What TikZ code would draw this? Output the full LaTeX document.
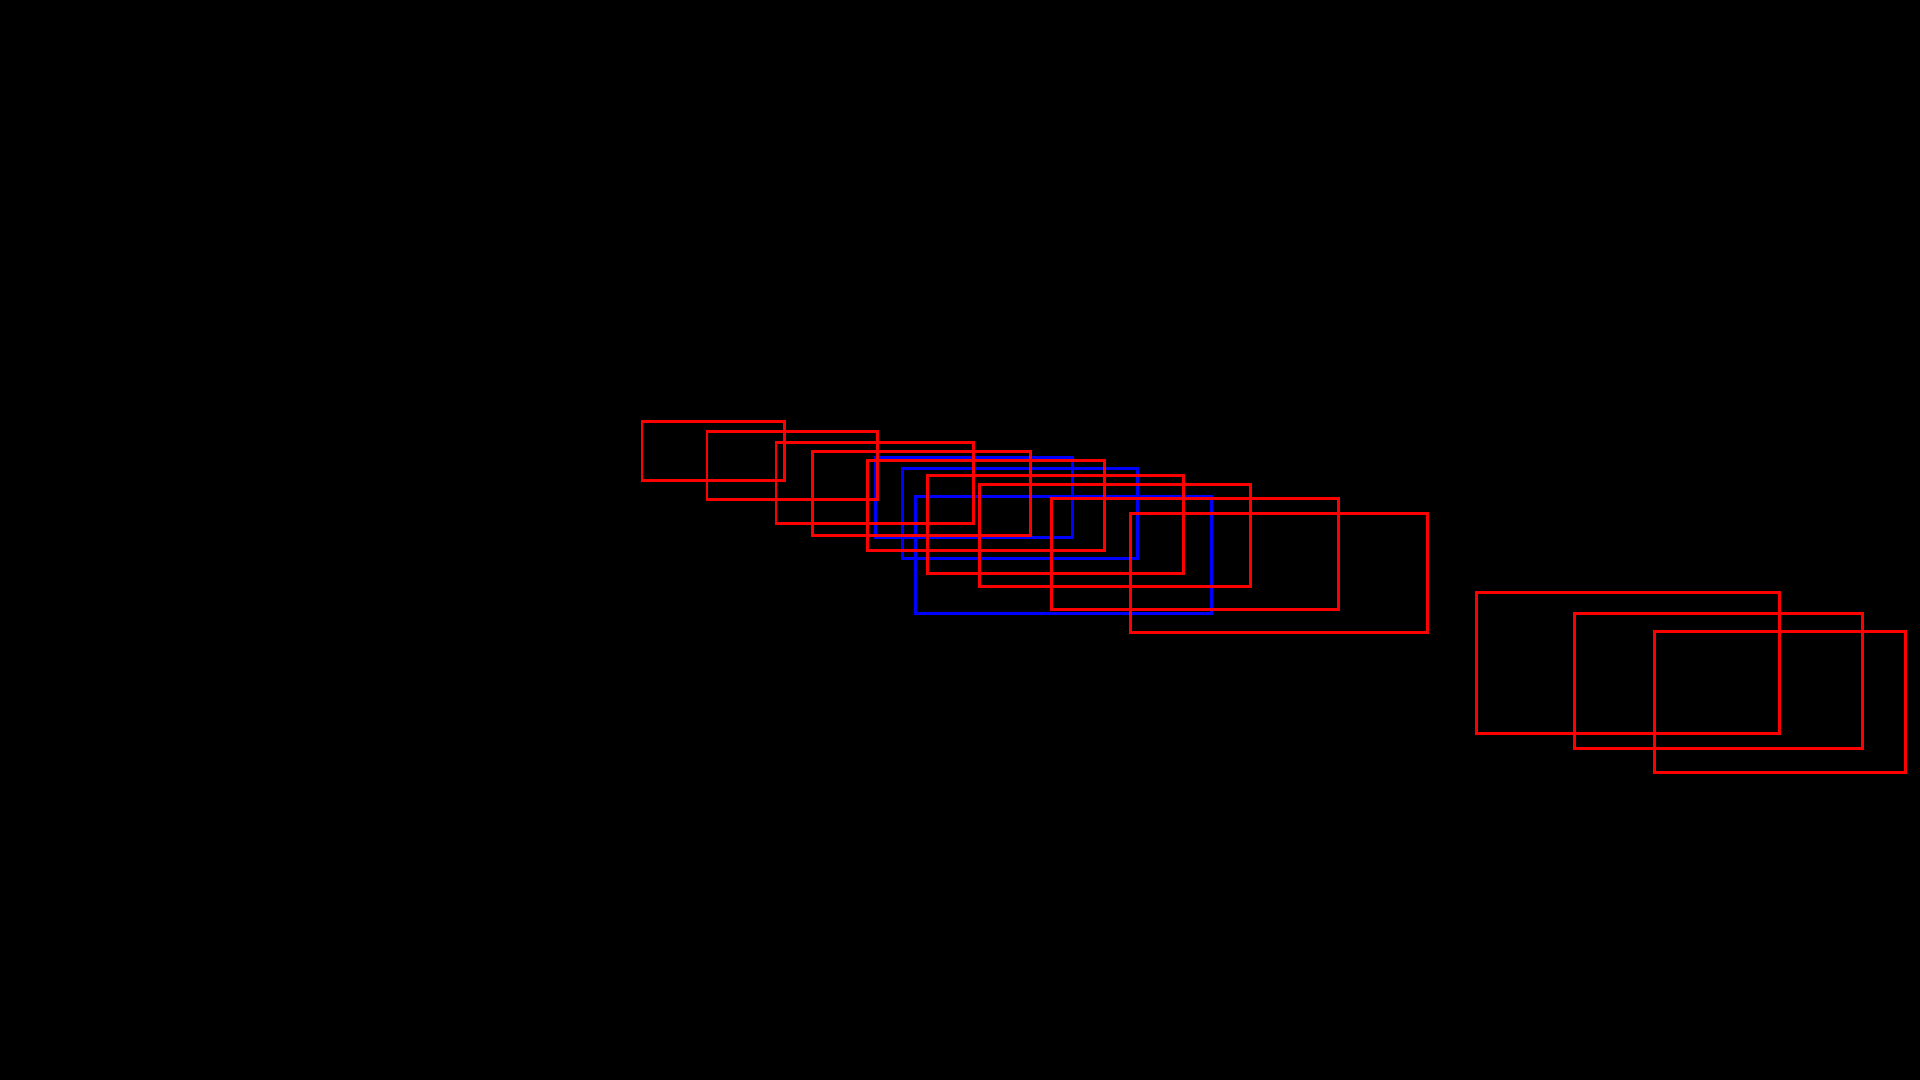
\documentclass[tikz,border=0pt]{standalone}
\usepackage{xcolor}
\usepackage{tikz}

\begin{document}
\begin{tikzpicture}[
    x=0.01cm, y=-0.01cm,
    gt/.style={draw=blue, line width=0.85pt},
    det/.style={draw=red, line width=0.85pt},
]
\fill[black] (0,0) rectangle (1920,1080);

% ground truth boxes
\foreach \xa/\ya/\xb/\yb in {875/458/1072/538, 902/469/1137/559, 915/497/1211/614}
    \draw[gt] (\xa,\ya) rectangle (\xb,\yb);

% detections
\foreach \xa/\ya/\xb/\yb in {642/422/784/481, 707/432/877/500, 776/443/973/524,
    812/452/1030/536, 867/461/1104/551, 927/476/1183/574, 979/485/1250/587,
    1051/499/1338/610, 1130/514/1427/633,
    1476/593/1779/734, 1574/614/1862/749, 1654/632/1905/773}
    \draw[det] (\xa,\ya) rectangle (\xb,\yb);
\end{tikzpicture}
\end{document}
